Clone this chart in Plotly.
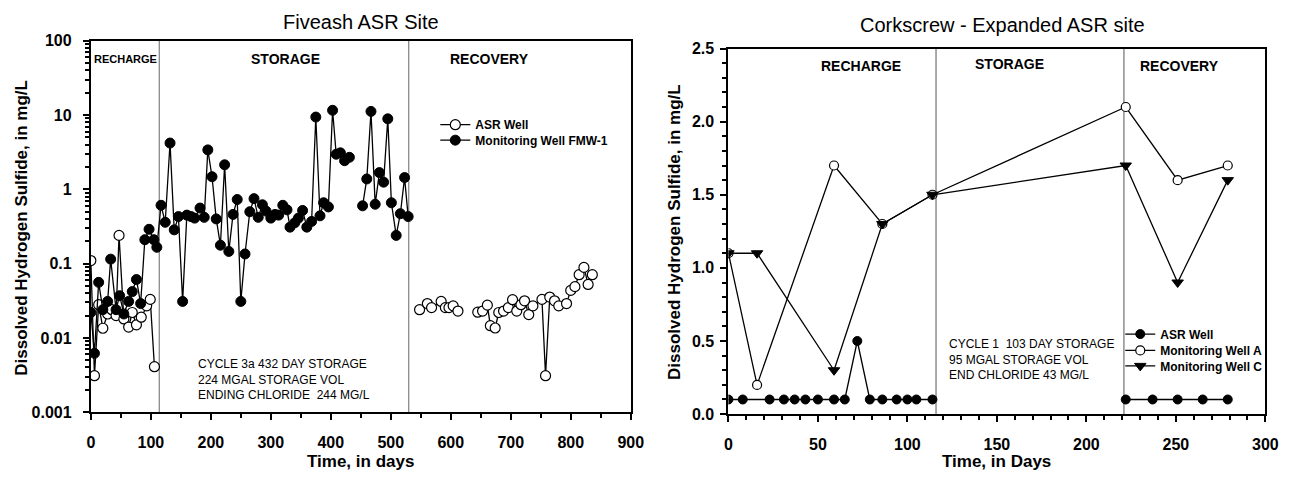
import plotly.graph_objects as go

FONT = "Arial, Liberation Sans, Helvetica, sans-serif"

# ---------------- Fiveash ASR Site (log scale) ----------------
# Monitoring Well FMW-1, cycle 3a (days, H2S mg/L); None = no sample link
fmw_days = [0, 6, 13, 20, 28, 33, 42, 48, 55, 63, 69, 76, 83, 90, 97, 105, 110,
            117, 124, 132, 139, 146, 153, 160, 167, 173, 182, 189, 195, 202, 209,
            216, 223, 230, 237, 244, 250, 257, 265, 272, 279, 286, 292, 300, 307,
            313, 320, 327, 332, 340, 346, 353, 360, 368, 375, 382, 388, 396, 403,
            409, 416, 423, 431, None, 453, 460, 467, 474, 481, 488, 495, 501, 509,
            516, 523, 529]
fmw_h2s = [0.022, 0.0062, 0.056, 0.024, 0.031, 0.115, 0.024, 0.037, 0.021, 0.031,
           0.042, 0.061, 0.029, 0.21, 0.29, 0.21, 0.166,
           0.61, 0.36, 4.2, 0.285, 0.43, 0.031, 0.45, 0.43, 0.41, 0.56, 0.42, 3.4,
           1.48, 0.40, 0.177, 2.14, 0.146, 0.46, 0.73, 0.031, 0.135, 0.50, 0.75,
           0.42, 0.62, 0.51, 0.41, 0.46, 0.45, 0.61, 0.53, 0.31, 0.355, 0.41, 0.52,
           0.31, 0.37, 9.4, 0.44, 0.66, 0.58, 11.6, 2.97, 3.1, 2.43, 2.7, None,
           0.60, 1.38, 11.2, 0.63, 1.68, 1.25, 8.9, 0.66, 0.24, 0.47, 1.44, 0.43]

# ASR well, recharge then recovery
asr5_days = [0, 6, 13, 20, 28, 35, 42, 47, 55, 63, 69, 76, 84, 93, 99, 106, None,
             548, 561, 568, 584, 591, 597, 604, 612, None,
             645, 653, 661, 666, 674, 680, 688, 696, 703, 710, 717, 723, 730, 737,
             752, 758, 765, 773, 780, 793, 800, 807, 814, 822, 829, 836]
asr5_h2s = [0.11, 0.0031, 0.028, 0.0135, 0.021, 0.024, 0.020, 0.24, 0.018, 0.014,
            0.022, 0.015, 0.019, 0.027, 0.033, 0.0041, None,
            0.024, 0.029, 0.0256, 0.031, 0.0256, 0.0256, 0.027, 0.023, None,
            0.0222, 0.023, 0.0276, 0.0146, 0.0136, 0.022, 0.023, 0.0256, 0.0327,
            0.023, 0.028, 0.0316, 0.0206, 0.027, 0.033, 0.0031, 0.0355, 0.0316,
            0.027, 0.029, 0.0436, 0.049, 0.071, 0.089, 0.0525, 0.071]

five_phase_bounds = [114, 530]
five_phases = ["RECHARGE", "STORAGE", "RECOVERY"]
five_phase_x = [57, 325, 665]
five_note = ["CYCLE 3a 432 DAY STORAGE", "224 MGAL STORAGE VOL",
             "ENDING CHLORIDE  244 MG/L"]

# ---------------- Corkscrew - Expanded ASR site ----------------
ck_asr_days = [0, 8, 23, 31, 37, 43, 50, 59, 65, 72, 79, 86, 94, 100, 105, 114,
               None, 222, 237, 251, 265, 279]
ck_asr_h2s = [0.1, 0.1, 0.1, 0.1, 0.1, 0.1, 0.1, 0.1, 0.1, 0.5, 0.1, 0.1, 0.1,
              0.1, 0.1, 0.1, None, 0.1, 0.1, 0.1, 0.1, 0.1]
ck_a_days = [0, 16, 59, 86, 114, 222, 251, 279]
ck_a_h2s = [1.1, 0.2, 1.7, 1.3, 1.5, 2.1, 1.6, 1.7]
ck_c_days = [0, 16, 59, 86, 114, 222, 251, 279]
ck_c_h2s = [1.1, 1.1, 0.3, 1.3, 1.5, 1.7, 0.9, 1.6]

ck_phase_bounds = [116, 221]
ck_phases = ["RECHARGE", "STORAGE", "RECOVERY"]
ck_phase_x = [74, 157, 252]
ck_note = ["CYCLE 1  103 DAY STORAGE", "95 MGAL STORAGE VOL",
           "END CHLORIDE 43 MG/L"]

W, H = 1304, 481


def px_x(p):
    return p / W


def px_y(p):
    return (H - p) / H


fig = go.Figure()

line_style = dict(color="black", width=1.3)

fig.add_trace(go.Scatter(
    x=asr5_days, y=asr5_h2s, name="ASR Well", mode="lines+markers",
    line=line_style, connectgaps=False, showlegend=True,
    marker=dict(symbol="circle", size=10, color="white",
                line=dict(color="black", width=1.2)),
    xaxis="x", yaxis="y", legend="legend"))
fig.add_trace(go.Scatter(
    x=fmw_days, y=fmw_h2s, name="Monitoring Well FMW-1", mode="lines+markers",
    line=line_style, connectgaps=False, showlegend=True,
    marker=dict(symbol="circle", size=10, color="black",
                line=dict(color="black", width=1)),
    xaxis="x", yaxis="y", legend="legend2"))

fig.add_trace(go.Scatter(
    x=ck_asr_days, y=ck_asr_h2s, name="ASR Well", mode="lines+markers",
    line=line_style, connectgaps=False, showlegend=True,
    marker=dict(symbol="circle", size=9, color="black",
                line=dict(color="black", width=1)),
    xaxis="x2", yaxis="y2", legend="legend3"))
fig.add_trace(go.Scatter(
    x=ck_a_days, y=ck_a_h2s, name="Monitoring Well A", mode="lines+markers",
    line=line_style, showlegend=True,
    marker=dict(symbol="circle", size=9, color="white",
                line=dict(color="black", width=1.2)),
    xaxis="x2", yaxis="y2", legend="legend4"))
fig.add_trace(go.Scatter(
    x=ck_c_days, y=ck_c_h2s, name="Monitoring Well C", mode="lines+markers",
    line=line_style, showlegend=True,
    marker=dict(symbol="triangle-down", size=10, color="black",
                line=dict(color="black", width=1)),
    xaxis="x2", yaxis="y2", legend="legend5"))

# phase boundaries
for b in five_phase_bounds:
    fig.add_shape(type="line", xref="x", yref="y domain", x0=b, x1=b, y0=0, y1=1,
                  line=dict(color="#666666", width=1), layer="below")
for b in ck_phase_bounds:
    fig.add_shape(type="line", xref="x2", yref="y2 domain", x0=b, x1=b, y0=0, y1=1,
                  line=dict(color="#555555", width=1), layer="below")


def label(x, y, text, size, xref="paper", **kw):
    d = dict(x=x, y=y, xref=xref, yref="paper", text=text, showarrow=False,
             xanchor="center", yanchor="middle", font=dict(size=size))
    d.update(kw)
    return d


ann = []
# phase labels
for i, (lab, xv) in enumerate(zip(five_phases, five_phase_x)):
    ann.append(label(xv, px_y(53), f"<b>{lab}</b>", 11 if i == 0 else 14, xref="x"))
for lab, xv, yy in zip(ck_phases, ck_phase_x, [60, 58, 60]):
    ann.append(label(xv, px_y(yy), f"<b>{lab}</b>", 14, xref="x2"))

# cycle notes
ann.append(label(px_x(195), px_y(385.5), "<br>".join(five_note), 12,
                 xanchor="left", align="left"))
ann.append(label(px_x(955), px_y(364.5), "<br>".join(ck_note), 12,
                 xanchor="left", align="left"))

# titles
ann.append(label(px_x(362), px_y(15), "Fiveash ASR Site", 20))
ann.append(label(px_x(1012), px_y(18), "Corkscrew - Expanded ASR site", 20))
# axis titles
ann.append(label(px_x(361), px_y(470), "<b>Time, in days</b>", 17))
ann.append(label(px_x(1006), px_y(470), "<b>Time, in Days</b>", 17))
ann.append(label(px_x(18), px_y(228), "<b>Dissolved Hydrogen Sulfide, in mg/L</b>",
                 17, textangle=-90))
ann.append(label(px_x(680), px_y(232), "<b>Dissolved Hydrogen Sulfide, in mg/L</b>",
                 17, textangle=-90))

log_major = [0.001, 0.01, 0.1, 1, 10, 100]
log_labels = ["0.001", "0.01", "0.1", "1", "10", "100"]
log_minor = [k * d for d in log_major[:-1] for k in range(2, 10)]

axis_common = dict(showline=True, linecolor="black", linewidth=2, mirror=True,
                   ticks="outside", ticklen=6, tickwidth=1.5, tickcolor="black",
                   showgrid=False, zeroline=False,
                   tickfont=dict(size=16, weight="bold", color="black"))

leg_common = dict(xanchor="left", yanchor="middle", bgcolor="rgba(0,0,0,0)",
                  font=dict(size=12, weight="bold"))

fig.update_layout(
    width=W, height=H,
    margin=dict(l=0, r=0, t=0, b=0),
    paper_bgcolor="white", plot_bgcolor="white",
    font=dict(family=FONT, color="black"),
    showlegend=True,
    xaxis=dict(domain=[px_x(88), px_x(635)], range=[0, 900], dtick=100,
               minor=dict(dtick=50, ticks="outside", ticklen=4, tickcolor="black"),
               anchor="y", ticklabelstandoff=9, **axis_common),
    yaxis=dict(domain=[px_y(419), px_y(34)], type="log", range=[-3, 2],
               tickmode="array", tickvals=log_major, ticktext=log_labels,
               minor=dict(tickmode="array", tickvals=log_minor, ticks="outside",
                          ticklen=4, tickcolor="black"),
               anchor="x", ticklabelstandoff=8, **axis_common),
    xaxis2=dict(domain=[px_x(734), px_x(1278)], range=[0, 300], dtick=50,
                minor=dict(dtick=10, ticks="outside", ticklen=4, tickcolor="black"),
                anchor="y2", ticklabelstandoff=9, **axis_common),
    yaxis2=dict(domain=[px_y(421), px_y(42)], range=[0, 2.5], dtick=0.5,
                tickformat=".1f",
                minor=dict(dtick=0.1, ticks="outside", ticklen=4, tickcolor="black"),
                anchor="x2", ticklabelstandoff=3, **axis_common),
    legend=dict(x=px_x(437), y=px_y(121), **leg_common),
    legend2=dict(x=px_x(437), y=px_y(137), **leg_common),
    legend3=dict(x=px_x(1131), y=px_y(338), **leg_common),
    legend4=dict(x=px_x(1131), y=px_y(355), **leg_common),
    legend5=dict(x=px_x(1131), y=px_y(371), **leg_common),
    annotations=ann,
)

fig.write_html("out.html")
